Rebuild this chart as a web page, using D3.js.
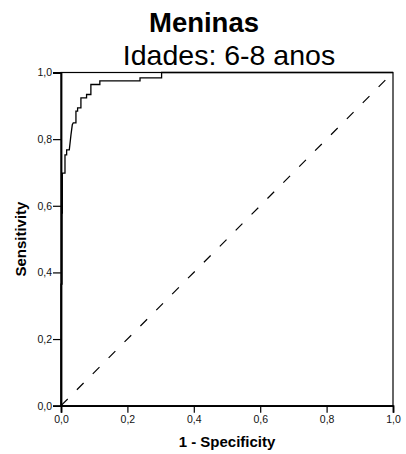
<!DOCTYPE html>
<html>
<head>
<meta charset="utf-8">
<script src="https://cdn.jsdelivr.net/npm/d3@7"></script>
<style>
  body { margin: 0; background: #fff; }
  svg { display: block; }
  text { font-family: "Liberation Sans", Arial, sans-serif; }
</style>
</head>
<body>
<svg width="406" height="454"></svg>
<script>
let width = 406;
let height = 454;

// plot box in pixels
let margin = {
    top: 72.5,
    right: 13,
    bottom: 48.3,
    left: 61
};

// ROC curve vertices
let fpr = [0, 0, 0.003, 0.003, 0.004, 0.004, 0.012, 0.012, 0.017, 0.017, 0.025, 0.030,
    0.034, 0.037, 0.045, 0.045, 0.050, 0.050, 0.060, 0.060, 0.077, 0.077, 0.090, 0.090,
    0.117, 0.117, 0.238, 0.238, 0.303, 0.303, 1];
let tpr = [0, 0.365, 0.365, 0.578, 0.578, 0.698, 0.698, 0.753, 0.753, 0.768, 0.768, 0.813,
    0.843, 0.849, 0.849, 0.884, 0.884, 0.894, 0.894, 0.924, 0.924, 0.934, 0.934, 0.964,
    0.964, 0.975, 0.975, 0.984, 0.984, 1, 1];

let tickValues = [0, 0.2, 0.4, 0.6, 0.8, 1.0];
let reference = [0, 1];

let title = "Meninas";
let subtitle = "Idades: 6-8 anos";
let xTitle = "1 - Specificity";
let yTitle = "Sensitivity";

let svg = d3.select("svg");

let x = d3.scaleLinear()
    .domain([0, 1])
    .range([margin.left, width - margin.right]);

let y = d3.scaleLinear()
    .domain([0, 1])
    .range([height - margin.bottom, margin.top]);

// comma as decimal mark
let fmt = d3.formatLocale({decimal: ",", thousands: ".", grouping: [3], currency: ["", ""]}).format(".1f");

// frame (top and right sides)
svg.append("rect")
    .attr("x", x(0))
    .attr("y", y(1))
    .attr("width", x(1) - x(0))
    .attr("height", y(0) - y(1))
    .style("fill", "none")
    .style("stroke", "black")
    .style("stroke-width", "1.2px");

let xAxis = svg.append("g")
    .attr("transform", `translate(0,${y(0)})`)
    .call(d3.axisBottom(x).tickValues(tickValues).tickSize(7).tickPadding(3).tickFormat(fmt));

let yAxis = svg.append("g")
    .attr("transform", `translate(${x(0)},0)`)
    .call(d3.axisLeft(y).tickValues(tickValues).tickSize(8).tickPadding(1).tickFormat(fmt));

[xAxis, yAxis].forEach(function(g) {
    g.select(".domain").style("stroke", "black").style("stroke-width", "1.8px");
    g.selectAll(".tick line").style("stroke", "black").style("stroke-width", "1.2px");
    g.selectAll(".tick text")
        .style("font-family", "'Liberation Sans', Arial, sans-serif")
        .style("font-size", "10.5px")
        .style("fill", "#111");
});

// diagonal reference line
svg.append("line")
    .attr("x1", x(reference[0]))
    .attr("y1", y(reference[0]))
    .attr("x2", x(reference[1]))
    .attr("y2", y(reference[1]))
    .style("stroke", "black")
    .style("stroke-width", "1.2px")
    .style("stroke-dasharray", "9.5,13");

// ROC curve
let points = fpr.map((d, i) => [d, tpr[i]]);
let line = d3.line()
    .x(d => x(d[0]))
    .y(d => y(d[1]));

svg.append("path")
    .attr("d", line(points))
    .style("fill", "none")
    .style("stroke", "black")
    .style("stroke-width", "1.3px");

// titles
svg.append("text")
    .attr("x", 204)
    .attr("y", 32)
    .attr("text-anchor", "middle")
    .style("font-weight", "bold")
    .style("font-size", "27.5px")
    .text(title);

svg.append("text")
    .attr("x", 229)
    .attr("y", 65)
    .attr("text-anchor", "middle")
    .style("font-size", "28.5px")
    .text(subtitle);

svg.append("text")
    .attr("x", (x(0) + x(1)) / 2)
    .attr("y", 447)
    .attr("text-anchor", "middle")
    .style("font-weight", "bold")
    .style("font-size", "15px")
    .text(xTitle);

svg.append("text")
    .attr("transform", `translate(26,${(y(0) + y(1)) / 2}) rotate(-90)`)
    .attr("text-anchor", "middle")
    .style("font-weight", "bold")
    .style("font-size", "15px")
    .text(yTitle);
</script>
</body>
</html>
